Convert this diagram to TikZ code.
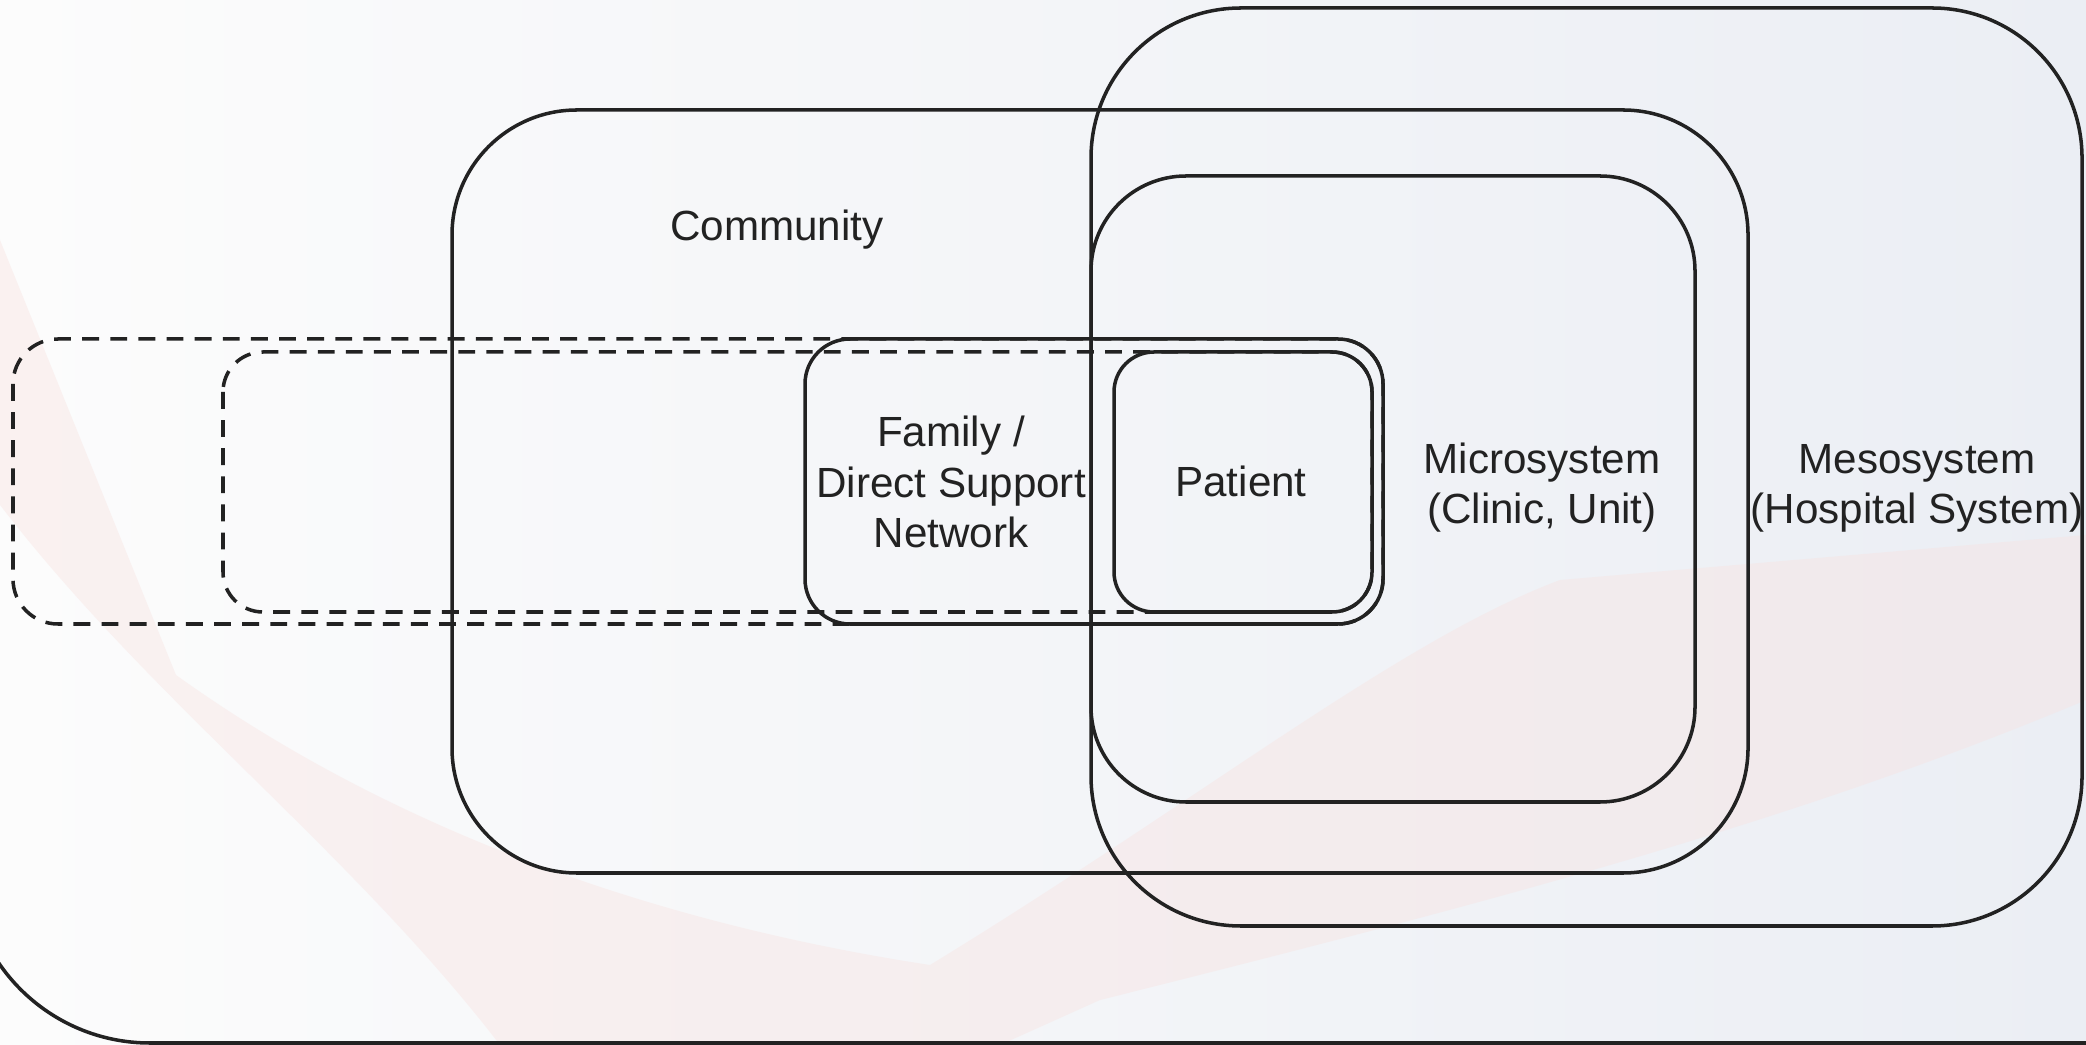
\documentclass[tikz,border=0pt]{standalone}
\usepackage{fontspec}
\setmainfont{Liberation Sans}

\definecolor{strichfarbe}{HTML}{222222}
\definecolor{hgweiss}{HTML}{FCFCFC}
\definecolor{hgblau}{HTML}{EBEEF4}
\definecolor{hgrosa}{HTML}{F8E2E0}

\begin{document}
\begin{tikzpicture}[x=0.1mm, y=-0.1mm,
        linie/.style={draw=strichfarbe, line width=1pt},
        gestrichelt/.style={linie, dash pattern=on 4.8pt off 3.2pt},
        beschriftung/.style={text=strichfarbe, font=\fontsize{12}{14.4}\selectfont, align=center, inner sep=0pt, anchor=base}]
        \useasboundingbox (0,0) rectangle (2086,1045);
        \clip (0,0) rectangle (2086,1045);

        % Hintergrund
        \shade[left color=hgweiss, right color=hgblau] (0,0) rectangle (2086,1045);
        \fill[hgrosa, opacity=.4] (0,240) -- (176,675) .. controls (420,850) and (700,930) .. (930,965)
            .. controls (1200,800) and (1400,640) .. (1560,580) -- (2086,535) -- (2086,700)
            .. controls (1800,820) and (1500,900) .. (1100,1000) -- (1000,1045) -- (500,1045)
            .. controls (350,850) and (150,700) .. (0,505) -- cycle;

        % Rahmen
        \draw[linie, rounded corners=18.3mm] (-33,1043) rectangle (2400,-400);

        % gestrichelte Verlaengerungen
        \draw[gestrichelt, rounded corners=4.5mm] (13,339) rectangle (1383,624);
        \draw[gestrichelt, rounded corners=4mm] (223,352) rectangle (1372,612);

        % Systeme
        \draw[linie, rounded corners=12.5mm] (452,110) rectangle (1748,873);
        \draw[linie, rounded corners=15mm] (1091,8) rectangle (2082,926);
        \draw[linie, rounded corners=9.5mm] (1091,176) rectangle (1695,802);
        \draw[linie, rounded corners=4.5mm] (805,339) rectangle (1383,624);
        \draw[linie, rounded corners=4mm] (1114,352) rectangle (1372,612);

        % Beschriftungen (base = letzte Zeile)
        \node[beschriftung] (gemeinde) at (777,241) {Community};
        \node[beschriftung] (familie) at (951,548) {Family /\\Direct Support\\Network};
        \node[beschriftung] (patient) at (1241,497) {Patient};
        \node[beschriftung] (mikro) at (1542,524) {Microsystem\\(Clinic, Unit)};
        \node[beschriftung] (meso) at (1917,524) {Mesosystem\\(Hospital System)};
\end{tikzpicture}
\end{document}
